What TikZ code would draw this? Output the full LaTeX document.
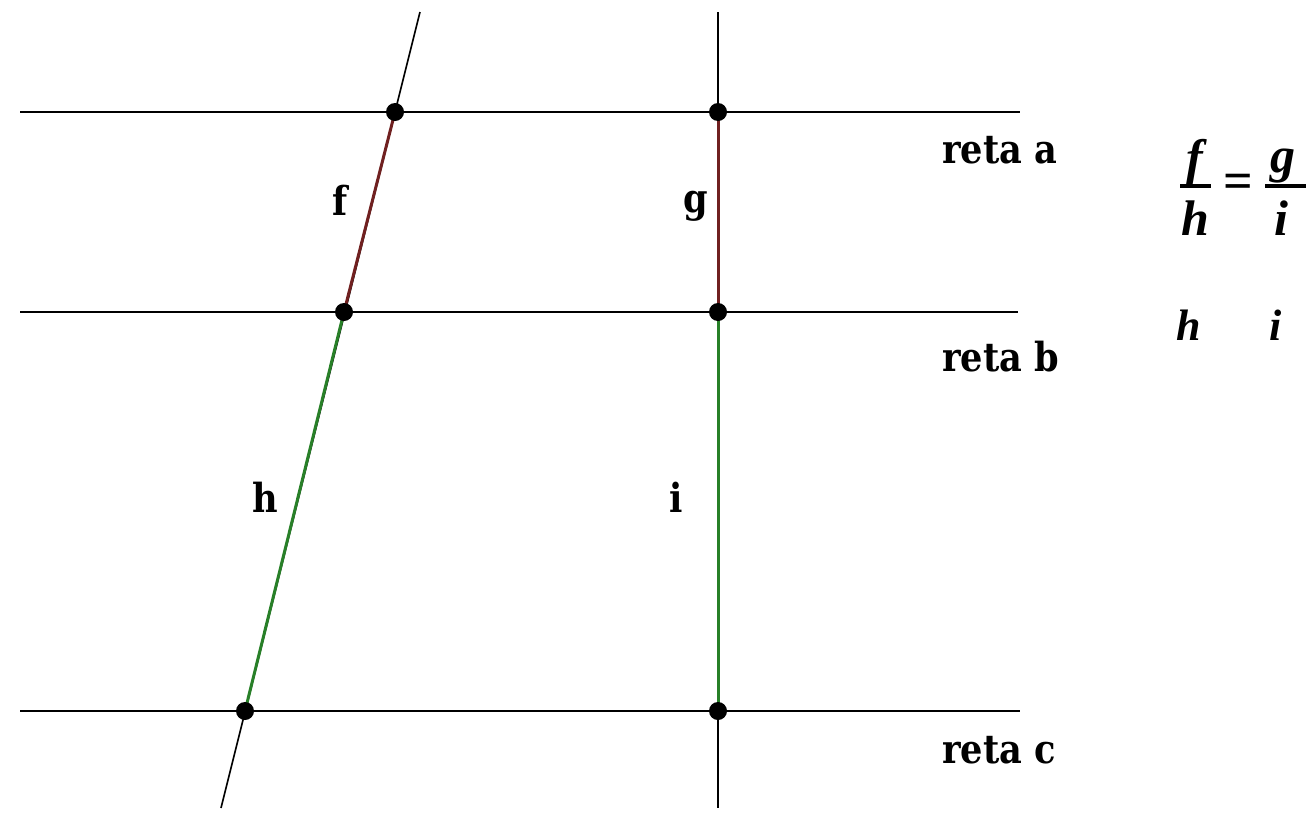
\documentclass[tikz,border=0pt]{standalone}
\usepackage{fontspec}
\newfontfamily\labelfont[FakeStretch=0.88]{DejaVu Serif}
\newfontfamily\eqfont{Liberation Serif}
\definecolor{segred}{RGB}{112, 32, 32}
\definecolor{seggreen}{RGB}{40, 128, 40}

\begin{document}
\begin{tikzpicture}[x=1pt, y=-1pt,
    lbl/.style={font=\fontsize{40}{48}\selectfont\labelfont\bfseries, anchor=base, inner sep=0pt},
    eq/.style={font=\fontsize{50}{60}\selectfont\eqfont\bfseries\itshape, anchor=base, inner sep=0pt},
    eqsmall/.style={font=\fontsize{44}{52}\selectfont\eqfont\bfseries\itshape, anchor=base, inner sep=0pt}]
  \useasboundingbox (0,0) rectangle (1306,817);
  \clip (0,0) rectangle (1306,817);
  % ends of the parallels and the transversals
  \coordinate (La) at (20,112);   \coordinate (Ra) at (1020,112);
  \coordinate (Lb) at (20,312);   \coordinate (Rb) at (1018,312);
  \coordinate (Lc) at (20,711);   \coordinate (Rc) at (1020,711);
  \coordinate (Ttop) at (420,12); \coordinate (Tbot) at (221,808);
  \coordinate (Vtop) at (718,12); \coordinate (Vbot) at (718,808);
  % crossing points
  \coordinate (A) at (395,112);
  \coordinate (B) at (344,312);
  \coordinate (C) at (245,711);
  \coordinate (D) at (718,112);
  \coordinate (E) at (718,312);
  \coordinate (F) at (718,711);
  \draw[line width=1.6pt] (La) -- (Ra);
  \draw[line width=1.6pt] (Lb) -- (Rb);
  \draw[line width=1.6pt] (Lc) -- (Rc);
  \draw[line width=1.6pt] (Ttop) -- (Tbot);
  \draw[line width=1.6pt] (Vtop) -- (Vbot);
  \draw[line width=3pt, segred] (A) -- (B);
  \draw[line width=3pt, segred] (D) -- (E);
  \draw[line width=3pt, seggreen] (B) -- (C);
  \draw[line width=3pt, seggreen] (E) -- (F);
  \foreach \p in {A,B,C,D,E,F}
    \fill (\p) circle (9pt);
  % segment names
  \node[lbl] (lf) at (340,215) {f};
  \node[lbl] (lg) at (696,212) {g};
  \node[lbl] (lh) at (265,512) {h};
  \node[lbl] (li) at (676,512) {i};
  \node[lbl, anchor=base west] (ra) at (942,163) {reta a};
  \node[lbl, anchor=base west] (rb) at (942,371) {reta b};
  \node[lbl, anchor=base west] (rc) at (942,763) {reta c};
  % proportion
  \node[eq] (fnum) at (1195,174) {f};
  \node[eq] (hden) at (1195,235) {h};
  \node[eq] (gnum) at (1283,172) {g};
  \node[eq] (iden) at (1281,235) {i};
  \node[font=\fontsize{52}{60}\selectfont\eqfont\bfseries, inner sep=0pt] (eqsign) at (1238,186) {=};
  \draw[line width=3.5pt] (1180,186) -- (1211,186);
  \draw[line width=3.5pt] (1265,186) -- (1320,186);
  \node[eqsmall] (hrow) at (1189,340) {h};
  \node[eqsmall] (irow) at (1276,340) {i};
\end{tikzpicture}
\end{document}
